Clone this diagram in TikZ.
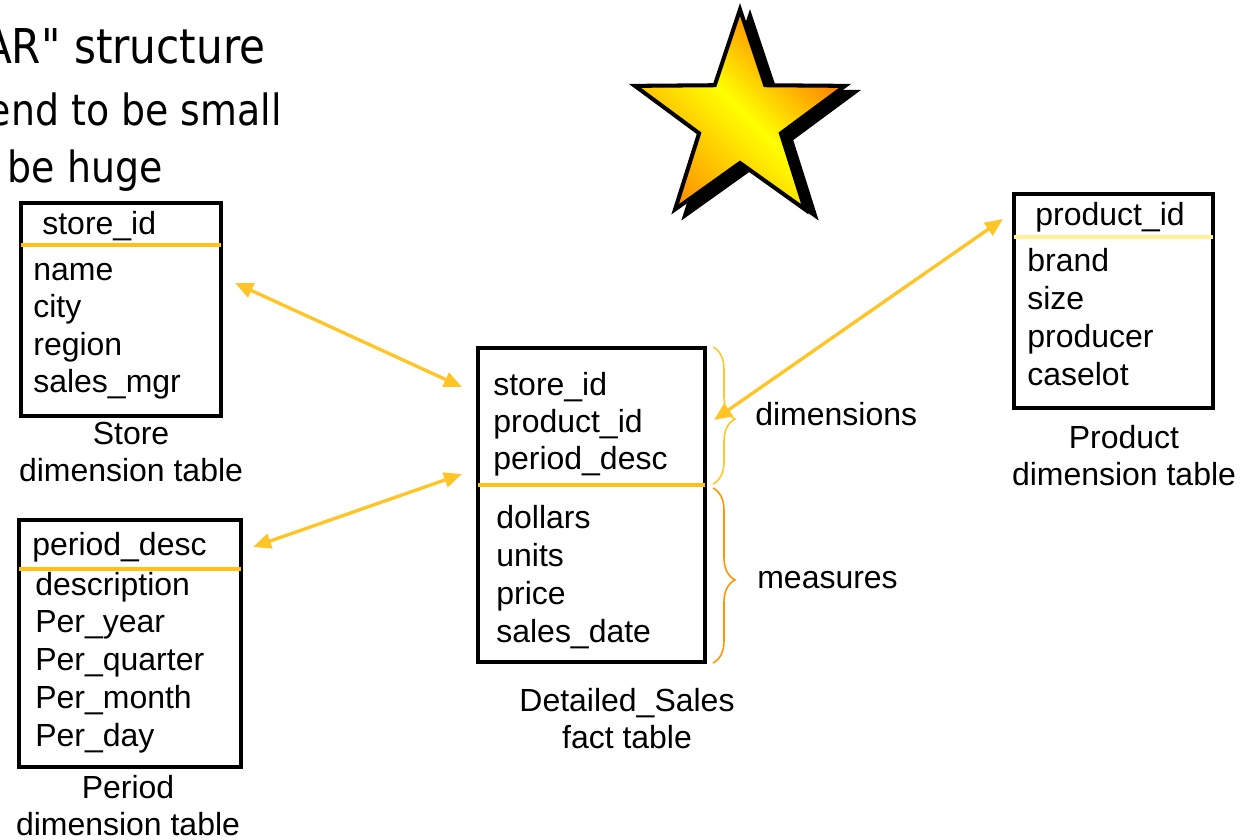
\documentclass[tikz,border=0pt]{standalone}
\usepackage{fontspec}
\setmainfont{Liberation Sans}
\newfontfamily\bulletfont[FakeStretch=0.88]{DejaVu Sans}
\usetikzlibrary{shapes.geometric,decorations.pathreplacing,arrows.meta}
\definecolor{linkgold}{RGB}{255,196,37}
\definecolor{keygold}{RGB}{255,194,20}
\definecolor{keypale}{RGB}{255,242,150}
\definecolor{braceyellow}{RGB}{255,200,40}
\definecolor{braceorange}{RGB}{255,150,0}
\definecolor{stardeep}{RGB}{255,105,0}
\definecolor{starlight}{RGB}{255,150,0}
\begin{document}
\begin{tikzpicture}[x=0.02cm,y=-0.02cm]
        \tikzstyle{tablebox}=[draw, line width=2.2pt, inner sep=0pt, outer sep=0pt, anchor=north west]
        \tikzstyle{keyline}=[line width=2.2pt]
        \tikzstyle{row}=[anchor=base west, inner sep=0pt, font=\fontsize{18.2}{21.1}\selectfont]
        \tikzstyle{caption}=[anchor=north, align=center, inner sep=0pt, font=\fontsize{18.2}{21.1}\selectfont]
        \tikzstyle{bullet}=[anchor=base east, inner sep=0pt]
        \tikzstyle{link}=[draw=linkgold, line width=1.9pt, {Triangle[length=0.36cm,width=0.3cm]}-{Triangle[length=0.36cm,width=0.3cm]}]
        \tikzstyle{bracket}=[line width=0.9pt, decorate, decoration={brace, amplitude=0.44cm, aspect=0.525}]
        \tikzstyle{starshape}=[star, star points=5, star point ratio=2.57, minimum size=4.42cm, inner sep=0pt, outer sep=0pt, line width=2.3pt]
        \useasboundingbox (0,0) rectangle (1251,839);
        % slide text, cut at the left edge
        \node[bullet, font=\bulletfont\fontsize{27.3}{32}\selectfont] (line1) at (266,63) {AR" structure};
        \node[bullet, font=\bulletfont\fontsize{24.5}{30}\selectfont] (line2) at (282,125) {end to be small};
        \node[bullet, font=\bulletfont\fontsize{24.5}{30}\selectfont] (line3) at (163,182) {be huge};
        % star
        \node[starshape, fill=black, draw=black] (star-shadow) at (750,126) {};
        \node[starshape, draw=black, left color=stardeep, right color=starlight, middle color=yellow, shading angle=-45] (star) at (740,120) {};
        % store table
        \node[tablebox, minimum width=4cm, minimum height=4.26cm] (store) at (21,203) {};
        \draw[keyline, draw=keygold] (store.west |- 0,245) -- (store.east |- 0,245);
        \node[row] (store-key) at (42,234) {store\_id};
        \foreach \t [count=\i] in {name,city,region,sales\_mgr}
            \node[row] (store-\i) at (33,{280+37.6*(\i-1)}) {\t};
        \node[caption] (store-cap) at (131,422) {Store\\dimension table};
        % period table
        \node[tablebox, minimum width=4.44cm, minimum height=4.94cm] (period) at (19,520) {};
        \draw[keyline, draw=keygold] (period.west |- 0,569) -- (period.east |- 0,569);
        \node[row] (period-key) at (32,555) {period\_desc};
        \foreach \t [count=\i] in {description,Per\_year,Per\_quarter,Per\_month,Per\_day}
            \node[row] (period-\i) at (35,{595+37.8*(\i-1)}) {\t};
        \node[caption] (period-cap) at (128,775) {Period\\dimension table};
        % fact table
        \node[tablebox, minimum width=4.54cm, minimum height=6.28cm] (fact) at (478,348) {};
        \draw[keyline, draw=keygold] (fact.west |- 0,485) -- (fact.east |- 0,485);
        \foreach \t [count=\i] in {store\_id,product\_id,period\_desc}
            \node[row] (fact-dim-\i) at (493,{395+37*(\i-1)}) {\t};
        \foreach \t [count=\i] in {dollars,units,price,sales\_date}
            \node[row] (fact-meas-\i) at (496,{528+38*(\i-1)}) {\t};
        \node[caption] (fact-cap) at (627,688) {Detailed\_Sales\\fact table};
        % product table
        \node[tablebox, minimum width=3.98cm, minimum height=4.28cm] (product) at (1014,194) {};
        \draw[keyline, draw=keypale] (product.west |- 0,237) -- (product.east |- 0,237);
        \node[row] (product-key) at (1035,225) {product\_id};
        \foreach \t [count=\i] in {brand,size,producer,caselot}
            \node[row] (product-\i) at (1027,{271+38*(\i-1)}) {\t};
        \node[caption] (product-cap) at (1124,425) {Product\\dimension table};
        % braces
        \draw[bracket, draw=braceyellow] (713,347) -- (713,484);
        \draw[bracket, draw=braceorange] (713,488) -- (713,663);
        \node[row] (dim-label) at (755,425) {dimensions};
        \node[row] (meas-label) at (757,588) {measures};
        % links
        \coordinate (store-tip) at (235,283);
        \coordinate (fact-tip-a) at (462,387);
        \coordinate (period-tip) at (253,547);
        \coordinate (fact-tip-b) at (462,474);
        \coordinate (fact-tip-c) at (714,420);
        \coordinate (product-tip) at (1003,219);
        \path[link] (store-tip) -- (fact-tip-a);
        \path[link] (period-tip) -- (fact-tip-b);
        \path[link] (fact-tip-c) -- (product-tip);
\end{tikzpicture}
\end{document}
